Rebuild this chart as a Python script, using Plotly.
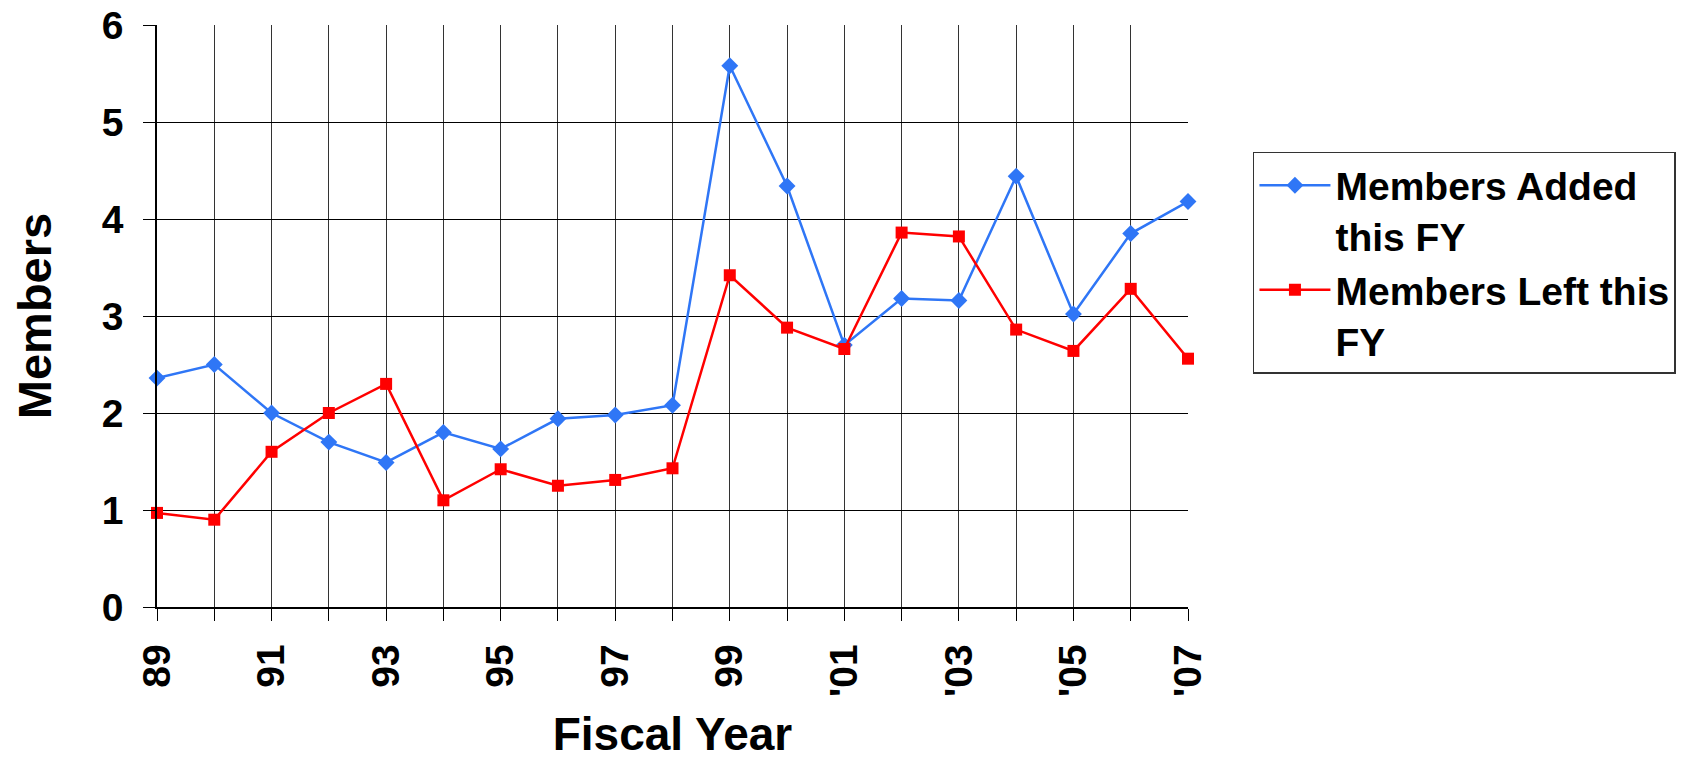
import plotly.graph_objects as go

fiscal_years = ["89", "90", "91", "92", "93", "94", "95", "96", "97", "98", "99",
                "'00", "'01", "'02", "'03", "'04", "'05", "'06", "'07"]
tick_labels = ["89", "", "91", "", "93", "", "95", "", "97", "", "99",
               "", "'01", "", "'03", "", "'05", "", "'07"]
members_added = [2.36, 2.50, 2.00, 1.70, 1.49, 1.80, 1.63, 1.94, 1.98, 2.08, 5.58,
                 4.34, 2.70, 3.18, 3.16, 4.44, 3.02, 3.85, 4.18]
members_left = [0.97, 0.90, 1.60, 2.00, 2.30, 1.10, 1.42, 1.25, 1.31, 1.43, 3.42,
                2.88, 2.66, 3.86, 3.82, 2.86, 2.64, 3.28, 2.56]
series_names = ["Members Added<br>this FY", "Members Left this<br>FY"]

FONT = "Liberation Sans, Arial, sans-serif"

fig = go.Figure()
fig.add_trace(go.Scatter(
    x=fiscal_years, y=members_added, name=series_names[0], mode="lines+markers",
    line=dict(color="#2F76F6", width=2.5),
    marker=dict(symbol="diamond", size=13, color="#2F76F6"),
    cliponaxis=False,
))
fig.add_trace(go.Scatter(
    x=fiscal_years, y=members_left, name=series_names[1], mode="lines+markers",
    line=dict(color="#FF0000", width=2.5),
    marker=dict(symbol="square", size=12, color="#FF0000"),
    cliponaxis=False,
))

fig.update_layout(
    width=1689, height=752,
    margin=dict(l=149, r=509, t=17, b=153, autoexpand=False),
    paper_bgcolor="white", plot_bgcolor="white",
    font=dict(family=FONT, color="black"),
    legend=dict(
        x=1.063, xanchor="left", y=0.782, yanchor="top",
        bordercolor="#333", borderwidth=1.5, bgcolor="white",
        font=dict(family=FONT, size=39, color="black", weight="bold"),
        valign="top", itemwidth=71,
        entrywidth=350, entrywidthmode="pixels",
    ),
    showlegend=True,
)
fig.update_xaxes(
    type="category", range=[0, 18],
    tickmode="array", tickvals=fiscal_years, ticktext=tick_labels,
    tickangle=-90, tickfont=dict(family=FONT, size=39, weight="bold"),
    ticks="outside", ticklen=12, tickcolor="black", tickwidth=1,
    ticklabelstandoff=8, ticklabeloverflow="allow",
    showgrid=True, gridcolor="#333", gridwidth=1,
    showline=True, linecolor="black", linewidth=1.5,
    zeroline=False,
    title=dict(text="Fiscal Year", font=dict(family=FONT, size=46, weight="bold"), standoff=41),
    automargin=False,
)
fig.update_yaxes(
    range=[0, 6], tickmode="linear", tick0=0, dtick=1,
    tickfont=dict(family=FONT, size=39, weight="bold"),
    ticks="outside", ticklen=12, tickcolor="black", tickwidth=1,
    ticklabelstandoff=12, ticklabeloverflow="allow",
    showgrid=True, gridcolor="black", gridwidth=1,
    showline=True, linecolor="black", linewidth=1.5,
    zeroline=False,
    title=dict(text="Members", font=dict(family=FONT, size=47, weight="bold"), standoff=42),
    automargin=False,
)

fig.write_html("out.html")
